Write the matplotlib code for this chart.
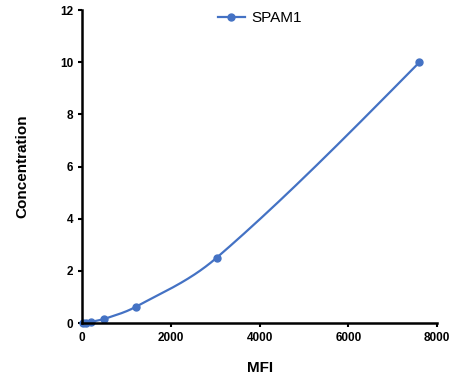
import numpy as np
import matplotlib
matplotlib.use("Agg")
import matplotlib.pyplot as plt

mfi = [25, 85, 195, 500, 1215, 3030, 7600]
conc = [0.0, 0.0098, 0.039, 0.156, 0.625, 2.5, 10.0]
series_name = "SPAM1"
xticks = [0, 2000, 4000, 6000, 8000]
yticks = [0, 2, 4, 6, 8, 10, 12]

def hermite_smooth(x, y, npts=60):
    x = np.asarray(x, float); y = np.asarray(y, float)
    n = len(x); h = np.diff(x); d = np.diff(y) / h
    m = np.empty(n)
    m[1:-1] = (y[2:] - y[:-2]) / (x[2:] - x[:-2])
    m[0] = (3*d[0] - m[1]) / 2
    m[-1] = (3*d[-1] - m[-2]) / 2
    xs, ys = [], []
    t = np.linspace(0, 1, npts)
    for k in range(n - 1):
        h00 = 2*t**3 - 3*t**2 + 1; h10 = t**3 - 2*t**2 + t
        h01 = -2*t**3 + 3*t**2; h11 = t**3 - t**2
        xs.append(x[k] + t*h[k])
        ys.append(h00*y[k] + h10*h[k]*m[k] + h01*y[k+1] + h11*h[k]*m[k+1])
    return np.concatenate(xs), np.concatenate(ys)

plt.rcParams['font.family'] = ['Liberation Sans', 'DejaVu Sans']
color = '#4472C4'

fig = plt.figure(figsize=(4.69, 3.92), dpi=100)
ax = fig.add_axes([0.175, 0.176, 0.757, 0.798])

cx, cy = hermite_smooth(mfi, conc)
ax.plot(cx, cy, color=color, lw=1.6, clip_on=False)
ax.plot(mfi, conc, 'o', color=color, ms=5, clip_on=False)
ax.plot([], [], '-o', color=color, lw=1.6, ms=5, label=series_name)

ax.set_xlim(0, 8000)
ax.set_ylim(0, 12)
ax.set_xticks(xticks)
ax.set_yticks(yticks)
for s in ['top', 'right']:
    ax.spines[s].set_visible(False)
for s in ['left', 'bottom']:
    ax.spines[s].set_linewidth(1.8)
ax.tick_params(direction='out', length=3, width=1.5, labelsize=8.5)
for lab in ax.get_xticklabels() + ax.get_yticklabels():
    lab.set_fontweight('bold')
ax.set_xlabel('MFI', fontsize=11, fontweight='bold', labelpad=12)
ax.set_ylabel('Concentration', fontsize=11, fontweight='bold', labelpad=22)

leg = ax.legend(loc='upper center', bbox_to_anchor=(0.50, 1.04), frameon=False,
                fontsize=11, handlelength=1.8, handletextpad=0.4)

fig.savefig('out.png', dpi=100)
